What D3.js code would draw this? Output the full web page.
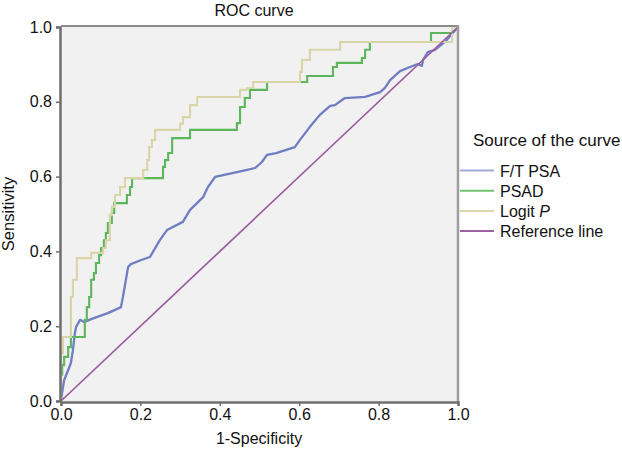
<!DOCTYPE html>
<html>
<head>
<meta charset="utf-8">
<script src="https://cdn.jsdelivr.net/npm/d3@7"></script>
<style>
  body { margin: 0; background: #ffffff; }
  svg text { font-family: "Liberation Sans", Arial, sans-serif; fill: #111; }
</style>
</head>
<body>
<svg id="chart" width="622" height="455"></svg>
<script>
// ---- data (1-specificity, sensitivity) ----
const seriesNames = ["F/T PSA", "PSAD", "Logit P", "Reference line"];

const ftPsaFpr = [0,0.003,0.008,0.018,0.025,0.030,0.035,0.038,0.048,0.058,0.076,0.118,0.151,0.156,0.169,0.176,0.202,0.224,0.249,0.267,0.307,0.325,0.358,0.370,0.388,0.469,0.489,0.506,0.519,0.542,0.589,0.602,0.627,0.652,0.678,0.690,0.715,0.766,0.804,0.816,0.829,0.854,0.879,0.899,0.909,0.912,0.924,0.942,0.967,1];
const ftPsaTpr = [0,0.024,0.056,0.083,0.102,0.136,0.182,0.198,0.217,0.211,0.219,0.235,0.251,0.278,0.358,0.366,0.377,0.385,0.430,0.457,0.479,0.511,0.545,0.572,0.599,0.618,0.623,0.639,0.658,0.663,0.679,0.698,0.733,0.765,0.789,0.791,0.810,0.813,0.826,0.837,0.858,0.882,0.893,0.901,0.896,0.912,0.933,0.939,0.960,1];

const psadFpr = [0,0,0.003,0.008,0.018,0.025,0.060,0.065,0.071,0.076,0.083,0.088,0.096,0.101,0.108,0.113,0.118,0.128,0.134,0.166,0.174,0.179,0.257,0.262,0.270,0.280,0.325,0.443,0.451,0.463,0.476,0.519,0.620,0.685,0.695,0.758,0.766,0.778,0.932,0.985,1];
const psadTpr = [0,0.070,0.096,0.118,0.144,0.171,0.217,0.251,0.278,0.324,0.342,0.369,0.390,0.409,0.430,0.449,0.476,0.503,0.529,0.551,0.572,0.596,0.626,0.644,0.663,0.703,0.725,0.743,0.786,0.810,0.832,0.853,0.869,0.893,0.904,0.917,0.939,0.960,0.984,1.0,1];

const logitFpr = [0,0,0.005,0.025,0.030,0.040,0.076,0.106,0.113,0.123,0.128,0.136,0.149,0.161,0.207,0.217,0.222,0.229,0.237,0.300,0.307,0.325,0.343,0.451,0.469,0.484,0.602,0.607,0.627,0.703,0.985,1];
const logitTpr = [0,0.128,0.171,0.278,0.324,0.382,0.396,0.409,0.430,0.497,0.519,0.551,0.572,0.596,0.618,0.644,0.679,0.698,0.725,0.741,0.759,0.791,0.813,0.832,0.837,0.853,0.880,0.912,0.939,0.960,1.0,1];

const refFpr = [0, 1];
const refTpr = [0, 1];

const axisTicks = [0, 0.2, 0.4, 0.6, 0.8, 1.0];
const titleText = "ROC curve";
const xTitle = "1-Specificity";
const yTitle = "Sensitivity";
const legendTitle = "Source of the curve";

// ---- drawing ----
const colors = ["#6f7dc2", "#5cb65c", "#d9d5a9", "#9b5c9f"];
const legendColors = ["#a3aad8", "#72c272", "#d9d8aa", "#9b64a0"];

const svg = d3.select("#chart");
const x = d3.scaleLinear().domain([0, 1]).range([61, 458]);
const y = d3.scaleLinear().domain([0, 1]).range([401, 27]);

// plot background
svg.append("rect")
  .attr("x", x(0)).attr("y", y(1))
  .attr("width", x(1) - x(0)).attr("height", y(0) - y(1))
  .attr("fill", "#f1f1f1");

const zip = (a, b) => a.map((v, i) => [v, b[i]]);
const stepLine = d3.line().x(d => x(d[0])).y(d => y(d[1])).curve(d3.curveStepAfter);
const polyLine = d3.line().x(d => x(d[0])).y(d => y(d[1]));

svg.append("path").attr("d", polyLine(zip(ftPsaFpr, ftPsaTpr)))
  .attr("fill", "none").attr("stroke", colors[0]).attr("stroke-width", 2.3).attr("stroke-linejoin", "round");
svg.append("path").attr("d", stepLine(zip(psadFpr, psadTpr)))
  .attr("fill", "none").attr("stroke", colors[1]).attr("stroke-width", 2.1);
svg.append("path").attr("d", stepLine(zip(logitFpr, logitTpr)))
  .attr("fill", "none").attr("stroke", colors[2]).attr("stroke-width", 2.1);
svg.append("path").attr("d", polyLine(zip(refFpr, refTpr)))
  .attr("fill", "none").attr("stroke", colors[3]).attr("stroke-width", 1.7);

// frame: top and right
svg.append("line").attr("x1", x(0)).attr("x2", x(1)).attr("y1", y(1) - 1).attr("y2", y(1) - 1)
  .attr("stroke", "#8c8c8c").attr("stroke-width", 2);
svg.append("line").attr("x1", x(1)).attr("x2", x(1)).attr("y1", y(1) - 2).attr("y2", y(0) + 2)
  .attr("stroke", "#9c9c9c").attr("stroke-width", 2.5);

// axes
const fmt = d3.format(".1f");
const yAxis = svg.append("g").attr("transform", `translate(${x(0) - 1},0)`)
  .call(d3.axisLeft(y).tickValues(axisTicks).tickFormat(fmt).tickSize(4).tickPadding(4));
const xAxis = svg.append("g").attr("transform", `translate(0,${y(0) + 1})`)
  .call(d3.axisBottom(x).tickValues(axisTicks).tickFormat(fmt).tickSize(4).tickPadding(3));
[yAxis, xAxis].forEach(g => {
  g.select(".domain").attr("stroke", "#6e6e6e").attr("stroke-width", 2.5);
  g.selectAll(".tick line").attr("stroke", "#6e6e6e").attr("stroke-width", 1.5);
  g.selectAll(".tick text").attr("font-size", 16).attr("fill", "#111")
    .attr("font-family", "Liberation Sans, Arial, sans-serif");
});

// titles
svg.append("text").attr("x", 254).attr("y", 16).attr("text-anchor", "middle")
  .attr("font-size", 16).text(titleText);
svg.append("text").attr("x", 259).attr("y", 444).attr("text-anchor", "middle")
  .attr("font-size", 16).text(xTitle);
svg.append("text").attr("transform", "translate(14,214) rotate(-90)").attr("text-anchor", "middle")
  .attr("font-size", 16.5).text(yTitle);

// legend
svg.append("text").attr("x", 473).attr("y", 146).attr("font-size", 17).text(legendTitle);
const leg = svg.append("g");
seriesNames.forEach((name, i) => {
  const ly = 170.5 + i * 20.2;
  leg.append("line").attr("x1", 460).attr("x2", 494).attr("y1", ly).attr("y2", ly)
    .attr("stroke", legendColors[i]).attr("stroke-width", 2);
  const t = leg.append("text").attr("x", 500).attr("y", ly + 6).attr("font-size", 16);
  if (name === "Logit P") {
    t.append("tspan").text("Logit ");
    t.append("tspan").attr("font-style", "italic").text("P");
  } else {
    t.text(name);
  }
});
</script>
</body>
</html>
